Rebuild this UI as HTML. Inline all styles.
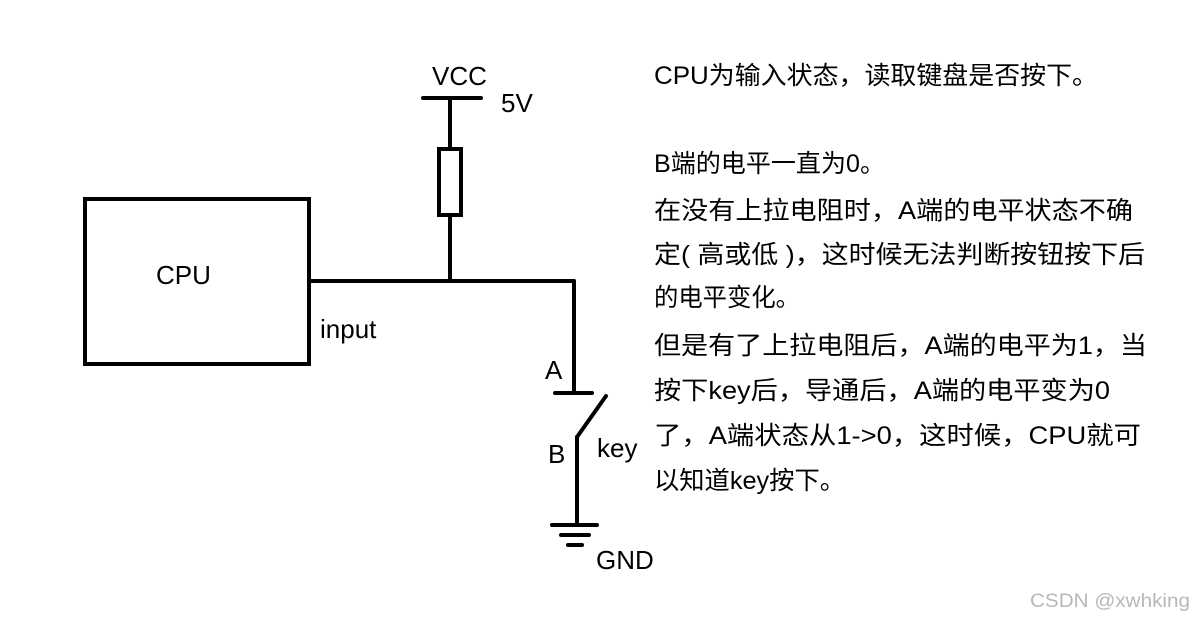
<!DOCTYPE html>
<html><head><meta charset="utf-8"><style>
html,body{margin:0;padding:0;background:#fff;}
svg{display:block;}
text{font-family:"Liberation Sans","Noto Sans CJK SC",sans-serif;fill:#000;}
</style></head><body>
<svg width="1194" height="619" viewBox="0 0 1194 619" xmlns="http://www.w3.org/2000/svg">
<g stroke="#000" stroke-width="4" fill="none" stroke-linecap="round">
<rect x="85" y="199" width="224" height="165"/>
<line x1="423" y1="98" x2="481" y2="98"/>
<line x1="450" y1="98" x2="450" y2="148"/>
<rect x="439" y="149" width="22" height="66"/>
<line x1="450" y1="216" x2="450" y2="281"/>
<line x1="309" y1="281" x2="574" y2="281"/>
<line x1="574" y1="281" x2="574" y2="393"/>
<line x1="555" y1="393" x2="592" y2="393"/>
<line x1="606" y1="396" x2="577" y2="437"/>
<line x1="577" y1="437" x2="577" y2="525"/>
<line x1="552" y1="525" x2="597" y2="525"/>
<line x1="561" y1="535" x2="589" y2="535"/>
<line x1="568" y1="545" x2="582" y2="545"/>
</g>
<g font-size="26">
<text x="432" y="85">VCC</text>
<text x="501" y="112">5V</text>
<text x="156" y="284">CPU</text>
<text x="320" y="338">input</text>
<text x="545" y="379">A</text>
<text x="548" y="463">B</text>
<text x="597" y="457">key</text>
<text x="596" y="569">GND</text>
</g>
<g font-size="25">
<text x="654" y="84" textLength="444" lengthAdjust="spacingAndGlyphs">CPU为输入状态，读取键盘是否按下。</text>
<text x="654" y="172" textLength="231" lengthAdjust="spacingAndGlyphs">B端的电平一直为0。</text>
<text x="654" y="219" textLength="479" lengthAdjust="spacingAndGlyphs">在没有上拉电阻时，A端的电平状态不确</text>
<text x="654" y="263" textLength="491" lengthAdjust="spacingAndGlyphs">定( 高或低 )，这时候无法判断按钮按下后</text>
<text x="654" y="306" textLength="146" lengthAdjust="spacingAndGlyphs">的电平变化。</text>
<text x="654" y="354" textLength="493" lengthAdjust="spacingAndGlyphs">但是有了上拉电阻后，A端的电平为1，当</text>
<text x="654" y="399" textLength="456" lengthAdjust="spacingAndGlyphs">按下key后，导通后，A端的电平变为0</text>
<text x="654" y="444" textLength="487" lengthAdjust="spacingAndGlyphs">了，A端状态从1-&gt;0，这时候，CPU就可</text>
<text x="654" y="489" textLength="191" lengthAdjust="spacingAndGlyphs">以知道key按下。</text>
</g>
<text x="1030" y="607" font-size="19" textLength="160" lengthAdjust="spacingAndGlyphs" style="fill:#b8b8b8">CSDN @xwhking</text>
</svg>
</body></html>
